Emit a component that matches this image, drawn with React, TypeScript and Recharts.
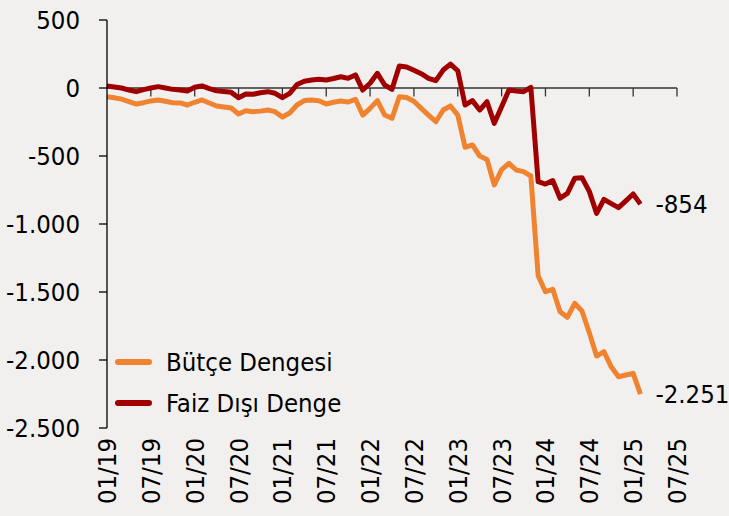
import React from 'react';
import { LineChart, Line, XAxis, YAxis, ReferenceLine, LabelList, Legend } from 'recharts';

// Monthly categories 01/19 .. 07/25
const years = ['19', '20', '21', '22', '23', '24', '25'];
const monthNums = ['01', '02', '03', '04', '05', '06', '07', '08', '09', '10', '11', '12'];
const categories: string[] = [];
years.forEach((y) => monthNums.forEach((m) => {
  if (!(y === '25' && Number(m) > 7)) categories.push(`${m}/${y}`);
}));

const tickLabels = ['01/19', '07/19', '01/20', '07/20', '01/21', '07/21', '01/22', '07/22', '01/23', '07/23', '01/24', '07/24', '01/25', '07/25'];
const yTicks = [-2500, -2000, -1500, -1000, -500, 0, 500];

const butceDengesi = [
  -64, -72, -82, -100, -118, -108, -95, -88, -98, -108, -110, -125,
  -105, -88, -110, -132, -140, -147, -191, -167, -174, -170, -162, -174,
  -213, -184, -125, -92, -88, -93, -118, -105, -96, -103, -83, -199,
  -150, -93, -199, -223, -64, -70, -98, -150, -200, -248, -162, -132,
  -199, -436, -419, -500, -525, -713, -600, -554, -603, -615, -647, -1380,
  -1498, -1480, -1645, -1686, -1583, -1640, -1800, -1971, -1939, -2050, -2123, -2110,
  -2098, -2251,
];

const faizDisiDenge = [
  15, 8, 0, -15, -27, -12, 0, 10, 0, -10, -15, -22,
  5, 15, -5, -20, -25, -32, -71, -44, -46, -35, -27, -39,
  -71, -39, 25, 50, 59, 64, 59, 70, 83, 71, 96, -15,
  35, 108, 22, -10, 162, 155, 130, 105, 71, 54, 132, 176,
  127, -125, -93, -162, -101, -260, -137, -15, -22, -27, 5, -689,
  -706, -681, -811, -775, -664, -660, -760, -922, -819, -850, -880, -830,
  -779, -854,
];

const seriesNames = { butce: 'Bütçe Dengesi', faiz: 'Faiz Dışı Denge' };
const colors = { butce: '#F0832F', faiz: '#A00000' };

const data = categories.map((c, i) => ({
  month: c,
  butce: i < butceDengesi.length ? butceDengesi[i] : null,
  faiz: i < faizDisiDenge.length ? faizDisiDenge[i] : null,
}));

const FONT = "'DejaVu Sans Condensed', 'DejaVu Sans', sans-serif";
const FS = 25.5;

const fmt = (v: number) => {
  const neg = v < 0;
  const s = Math.abs(Math.round(v)).toString().replace(/\B(?=(\d{3})+(?!\d))/g, '.');
  return (neg ? '-' : '') + s;
};

const XTick = (props: any) => {
  const { x, y, payload } = props;
  const ty = y + 2;
  return (
    <text
      x={x}
      y={ty}
      transform={`rotate(-90, ${x}, ${ty})`}
      textAnchor="end"
      dominantBaseline="central"
      fontFamily={FONT}
      fontSize={FS}
      fill="#000"
    >
      {payload.value}
    </text>
  );
};

const makeEndLabel = (lastIdx: number) => (props: any) => {
  const { x, y, value, index } = props;
  if (index !== lastIdx || value == null) return null;
  return (
    <text x={x + 15} y={y} dominantBaseline="central" fontFamily={FONT} fontSize={FS} fill="#000">
      {fmt(value)}
    </text>
  );
};

const LegendContent = () => {
  const items = [
    { name: seriesNames.butce, color: colors.butce },
    { name: seriesNames.faiz, color: colors.faiz },
  ];
  return (
    <div style={{ fontFamily: FONT, fontSize: FS, color: '#000' }}>
      {items.map((it) => (
        <div key={it.name} style={{ display: 'flex', alignItems: 'center', height: 41 }}>
          <svg width={46} height={12} style={{ display: 'block' }}>
            <line x1={6} y1={6} x2={37} y2={6} stroke={it.color} strokeWidth={6} strokeLinecap="round" />
          </svg>
          <span style={{ marginLeft: 8, whiteSpace: 'nowrap' }}>{it.name}</span>
        </div>
      ))}
    </div>
  );
};

export default function App() {
  return (
    <div style={{ position: 'absolute', left: 0, top: 0, width: 729, height: 516, background: '#F2F0EF', overflow: 'hidden' }}>
      <LineChart width={729} height={516} data={data} margin={{ top: 20, right: 52, bottom: 0, left: 0 }}>
        <XAxis
          dataKey="month"
          interval={5}
          axisLine={false}
          tickLine={false}
          height={88}
          tick={<XTick />}
        />
        <YAxis
          type="number"
          domain={[-2500, 500]}
          ticks={yTicks}
          width={107}
          tickSize={8}
          tickMargin={19}
          axisLine={{ stroke: '#000', strokeWidth: 1.3 }}
          tickLine={{ stroke: '#000', strokeWidth: 1.3 }}
          tickFormatter={fmt}
          tick={{ fontFamily: FONT, fontSize: FS, fill: '#000' }}
          interval={0}
        />
        <ReferenceLine y={0} stroke="#333" strokeWidth={1.3} ifOverflow="extendDomain" />
        {tickLabels.slice(1).map((t) => (
          <ReferenceLine
            key={t}
            segment={[{ x: t, y: 0 }, { x: t, y: -62 }]}
            stroke="#333"
            strokeWidth={1.3}
          />
        ))}
        <Legend
          layout="vertical"
          align="center"
          verticalAlign="middle"
          content={<LegendContent />}
          wrapperStyle={{ left: 112, top: 341, width: 'auto', height: 'auto' }}
        />
        <Line
          type="linear"
          dataKey="butce"
          name={seriesNames.butce}
          stroke={colors.butce}
          strokeWidth={5}
          strokeLinejoin="round"
          dot={false}
          activeDot={false}
          isAnimationActive={false}
        >
          <LabelList dataKey="butce" content={makeEndLabel(butceDengesi.length - 1)} />
        </Line>
        <Line
          type="linear"
          dataKey="faiz"
          name={seriesNames.faiz}
          stroke={colors.faiz}
          strokeWidth={5}
          strokeLinejoin="round"
          dot={false}
          activeDot={false}
          isAnimationActive={false}
        >
          <LabelList dataKey="faiz" content={makeEndLabel(faizDisiDenge.length - 1)} />
        </Line>
      </LineChart>
    </div>
  );
}
